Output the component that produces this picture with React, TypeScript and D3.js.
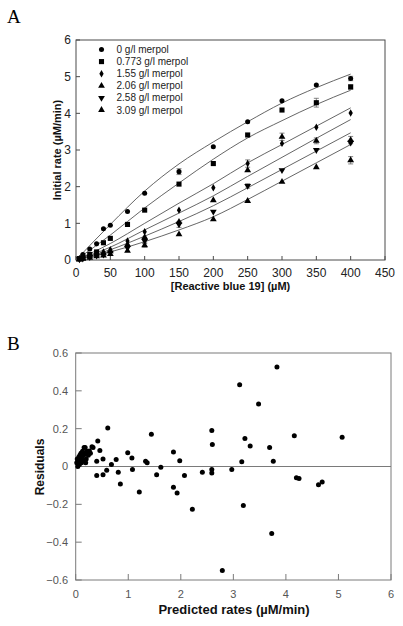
import React from "react";
import * as d3 from "d3";

// ---------- Panel A data ----------
const concX = [5, 10, 20, 30, 40, 50, 75, 100, 150, 200, 250, 300, 350, 400];
const seriesLabels = ["0 g/l merpol", "0.773 g/l merpol", "1.55 g/l merpol", "2.06 g/l merpol", "2.58 g/l merpol", "3.09 g/l merpol"];
const rate0 = [0.05, 0.15, 0.3, 0.44, 0.85, 0.95, 1.32, 1.82, 2.41, 3.09, 3.77, 4.34, 4.77, 4.95];
const rate1 = [0.04, 0.08, 0.15, 0.22, 0.47, 0.59, 0.97, 1.36, 2.07, 2.63, 3.41, 4.09, 4.29, 4.72];
const rate2 = [0.03, 0.06, 0.12, 0.18, 0.22, 0.28, 0.52, 0.77, 1.36, 1.97, 2.63, 3.18, 3.62, 4.01];
const rate3 = [0.02, 0.05, 0.1, 0.15, 0.18, 0.24, 0.42, 0.62, 1.04, 1.63, 2.45, 3.36, 3.25, 3.27];
const rate4 = [0.02, 0.04, 0.08, 0.12, 0.15, 0.2, 0.33, 0.52, 0.97, 1.32, 2.02, 2.45, 3.0, 3.2];
const rate5 = [0.01, 0.03, 0.06, 0.1, 0.12, 0.16, 0.25, 0.4, 0.7, 1.11, 1.61, 2.13, 2.53, 2.72];
const err0 = [0, 0, 0, 0, 0, 0, 0, 0, 0.08, 0, 0, 0, 0, 0.06];
const err1 = [0, 0, 0, 0, 0, 0, 0, 0, 0, 0, 0, 0, 0.12, 0.06];
const err2 = [0, 0, 0, 0, 0, 0, 0, 0, 0, 0, 0.1, 0, 0, 0];
const err3 = [0, 0, 0, 0, 0, 0, 0, 0, 0, 0, 0, 0.1, 0.08, 0.1];
const err4 = [0, 0, 0, 0, 0, 0, 0, 0.05, 0.08, 0, 0.06, 0, 0, 0];
const err5 = [0, 0, 0, 0, 0, 0, 0, 0.05, 0, 0, 0, 0, 0, 0.1];

const fitX = [0, 50, 100, 150, 200, 250, 300, 350, 400];
const fit0 = [0, 0.97, 1.88, 2.62, 3.22, 3.77, 4.28, 4.7, 5.07];
const fit1 = [0, 0.68, 1.42, 2.1, 2.75, 3.33, 3.8, 4.24, 4.63];
const fit2 = [0, 0.45, 1.0, 1.55, 2.08, 2.65, 3.15, 3.65, 4.15];
const fit3 = [0, 0.35, 0.82, 1.28, 1.75, 2.28, 2.8, 3.32, 3.83];
const fit4 = [0, 0.28, 0.65, 1.05, 1.48, 1.97, 2.47, 2.97, 3.47];
const fit5 = [0, 0.22, 0.5, 0.82, 1.18, 1.65, 2.15, 2.65, 3.15];

const xTicksA = [0, 50, 100, 150, 200, 250, 300, 350, 400, 450];
const yTicksA = [0, 1, 2, 3, 4, 5, 6];

// ---------- Panel B data ----------
const predicted = [
  0.02, 0.03, 0.05, 0.06, 0.08, 0.09, 0.1, 0.12, 0.13, 0.15, 0.17, 0.2, 0.22, 0.07, 0.04, 0.11, 0.16, 0.26, 0.31, 0.18, 0.24, 0.28, 0.14, 0.19,
  0.33, 0.4, 0.42, 0.46, 0.52, 0.61, 0.68, 0.77, 0.99, 1.07, 1.33, 1.36, 1.44, 1.86, 1.98,
  0.4, 0.52, 0.59, 0.81, 0.85, 1.08, 1.21, 1.54, 1.62, 1.86, 1.93, 2.07, 2.22, 2.41, 2.59, 2.59, 2.79, 2.97, 3.16, 3.19,
  3.83, 3.12, 3.48, 2.59, 2.6, 3.22, 3.32, 3.69, 4.16, 5.07, 3.76, 4.2, 4.25, 4.62, 4.69, 3.73,
];
const residuals = [
  0.02, 0.04, 0.03, 0.05, 0.06, 0.03, 0.07, 0.05, 0.08, 0.06, 0.07, 0.04, 0.08, 0.01, 0.0, 0.02, 0.1, 0.082, 0.105, 0.1, 0.06, 0.07, 0.03, 0.02,
  0.1, 0.028, 0.135, 0.085, 0.04, 0.203, 0.01, 0.037, 0.073, 0.045, 0.028, 0.02, 0.17, 0.076, 0.03,
  -0.048, -0.044, -0.02, -0.03, -0.092, -0.016, -0.135, -0.043, -0.004, -0.11, -0.14, -0.048, -0.226, -0.03, -0.016, -0.034, -0.55, -0.016, 0.025, -0.206,
  0.526, 0.432, 0.33, 0.19, 0.116, 0.148, 0.108, 0.1, 0.162, 0.155, 0.028, -0.06, -0.064, -0.096, -0.082, -0.354,
];
const xTicksB = [0, 1, 2, 3, 4, 5, 6];
const yTicksB = [-0.6, -0.4, -0.2, 0, 0.2, 0.4, 0.6];

const rates = [rate0, rate1, rate2, rate3, rate4, rate5];
const errs = [err0, err1, err2, err3, err4, err5];
const fits = [fit0, fit1, fit2, fit3, fit4, fit5];

const symbolPaths = [
  d3.symbol(d3.symbolCircle, 20)(),
  d3.symbol(d3.symbolSquare, 26)(),
  d3.symbol(d3.symbolDiamond, 16)(),
  d3.symbol(d3.symbolTriangle, 20)(),
  d3.symbol(d3.symbolTriangle, 20)(),
  d3.symbol(d3.symbolTriangle, 20)(),
];
const symbolRot = [0, 0, 0, 0, 180, 0];

const narrow = "'Liberation Sans Narrow', 'Arial Narrow', 'Liberation Sans', Arial, sans-serif";
const sans = "'Liberation Sans', Arial, sans-serif";

export default function App() {
  // Panel A scales
  const xA = d3.scaleLinear().domain([0, 450]).range([76, 385]);
  const yA = d3.scaleLinear().domain([0, 6]).range([260, 40]);
  // Panel B scales
  const xB = d3.scaleLinear().domain([0, 6]).range([75.7, 391]);
  const yB = d3.scaleLinear().domain([-0.6, 0.6]).range([580, 353]);

  const line = d3
    .line<number>()
    .x((_, i) => xA(fitX[i]))
    .y((d) => yA(d))
    .curve(d3.curveMonotoneX);

  const frameA = "#4a4a4a";
  const frameB = "#7a7a7a";

  return (
    <svg width={403} height={626} style={{ position: "absolute", left: 0, top: 0, background: "#fff" }}>
      {/* Panel labels */}
      <text x={7} y={23} fontFamily="'Liberation Serif', 'Times New Roman', serif" fontSize={19}>A</text>
      <text x={7} y={350} fontFamily="'Liberation Serif', 'Times New Roman', serif" fontSize={19}>B</text>

      {/* ---------- Panel A ---------- */}
      <rect x={xA(0)} y={yA(6)} width={xA(450) - xA(0)} height={yA(0) - yA(6)} fill="none" stroke={frameA} strokeWidth={1} />
      {yTicksA.map((t) => (
        <g key={"ya" + t}>
          <line x1={xA(0)} x2={xA(0) + 4} y1={yA(t)} y2={yA(t)} stroke={frameA} />
          <text x={71} y={yA(t)} dy="0.35em" textAnchor="end" fontFamily={narrow} fontSize={12} fill="#222">{t}</text>
        </g>
      ))}
      {xTicksA.map((t) => (
        <g key={"xa" + t}>
          <line x1={xA(t)} x2={xA(t)} y1={yA(0)} y2={yA(0) - 4} stroke={frameA} />
          <text x={xA(t)} y={277} textAnchor="middle" fontFamily={narrow} fontSize={12} fill="#222">{t}</text>
        </g>
      ))}
      <text x={(xA(0) + xA(450)) / 2} y={290} textAnchor="middle" fontFamily={sans} fontWeight="bold" fontSize={11} fill="#111">[Reactive blue 19] (µM)</text>
      <text transform={`translate(61,150) rotate(-90)`} textAnchor="middle" fontFamily={sans} fontWeight="bold" fontSize={11} fill="#111">Initial rate (µM/min)</text>

      {/* fitted lines */}
      {fits.map((f, i) => (
        <path key={"fit" + i} d={line(f) || ""} fill="none" stroke="#555" strokeWidth={0.9} />
      ))}

      {/* error bars */}
      {rates.map((r, si) =>
        r.map((v, i) =>
          errs[si][i] > 0 ? (
            <g key={`e${si}-${i}`} stroke="#666" strokeWidth={0.8}>
              <line x1={xA(concX[i])} x2={xA(concX[i])} y1={yA(v - errs[si][i])} y2={yA(v + errs[si][i])} />
              <line x1={xA(concX[i]) - 2.5} x2={xA(concX[i]) + 2.5} y1={yA(v - errs[si][i])} y2={yA(v - errs[si][i])} />
              <line x1={xA(concX[i]) - 2.5} x2={xA(concX[i]) + 2.5} y1={yA(v + errs[si][i])} y2={yA(v + errs[si][i])} />
            </g>
          ) : null
        )
      )}

      {/* data markers */}
      {rates.map((r, si) =>
        r.map((v, i) => (
          <path
            key={`m${si}-${i}`}
            d={symbolPaths[si] || ""}
            transform={`translate(${xA(concX[i])},${yA(v)}) rotate(${symbolRot[si]})`}
            fill="#000"
          />
        ))
      )}

      {/* legend */}
      {seriesLabels.map((lab, i) => (
        <g key={"lg" + i} transform={`translate(0,${49.5 + i * 12.1})`}>
          <path d={symbolPaths[i] || ""} transform={`translate(101.5,0) rotate(${symbolRot[i]})`} fill="#000" />
          <text x={116.5} y={0} dy="0.35em" fontFamily={narrow} fontSize={10} fill="#222">{lab}</text>
        </g>
      ))}

      {/* ---------- Panel B ---------- */}
      <rect x={xB(0)} y={yB(0.6)} width={xB(6) - xB(0)} height={yB(-0.6) - yB(0.6)} fill="none" stroke={frameB} strokeWidth={1} />
      <line x1={xB(0)} x2={xB(6)} y1={yB(0)} y2={yB(0)} stroke={frameB} strokeWidth={1} />
      {yTicksB.map((t) => (
        <g key={"yb" + t}>
          <line x1={xB(0)} x2={xB(0) + 6} y1={yB(t)} y2={yB(t)} stroke={frameB} />
          <text x={68} y={yB(t)} dy="0.35em" textAnchor="end" fontFamily={sans} fontSize={11} fill="#555">{t === 0 ? "0" : d3.format(".1f")(t)}</text>
        </g>
      ))}
      {xTicksB.map((t) => (
        <g key={"xb" + t}>
          <line x1={xB(t)} x2={xB(t)} y1={yB(-0.6)} y2={yB(-0.6) - 6} stroke={frameB} />
          <text x={xB(t)} y={598} textAnchor="middle" fontFamily={sans} fontSize={11} fill="#555">{t}</text>
        </g>
      ))}
      <text x={234} y={614} textAnchor="middle" fontFamily={sans} fontWeight="bold" fontSize={13} fill="#111">Predicted rates (µM/min)</text>
      <text transform={`translate(44,467) rotate(-90)`} textAnchor="middle" fontFamily={sans} fontWeight="bold" fontSize={12} fill="#111">Residuals</text>

      {predicted.map((p, i) => (
        <circle key={"r" + i} cx={xB(p)} cy={yB(residuals[i])} r={2.5} fill="#000" />
      ))}
    </svg>
  );
}
